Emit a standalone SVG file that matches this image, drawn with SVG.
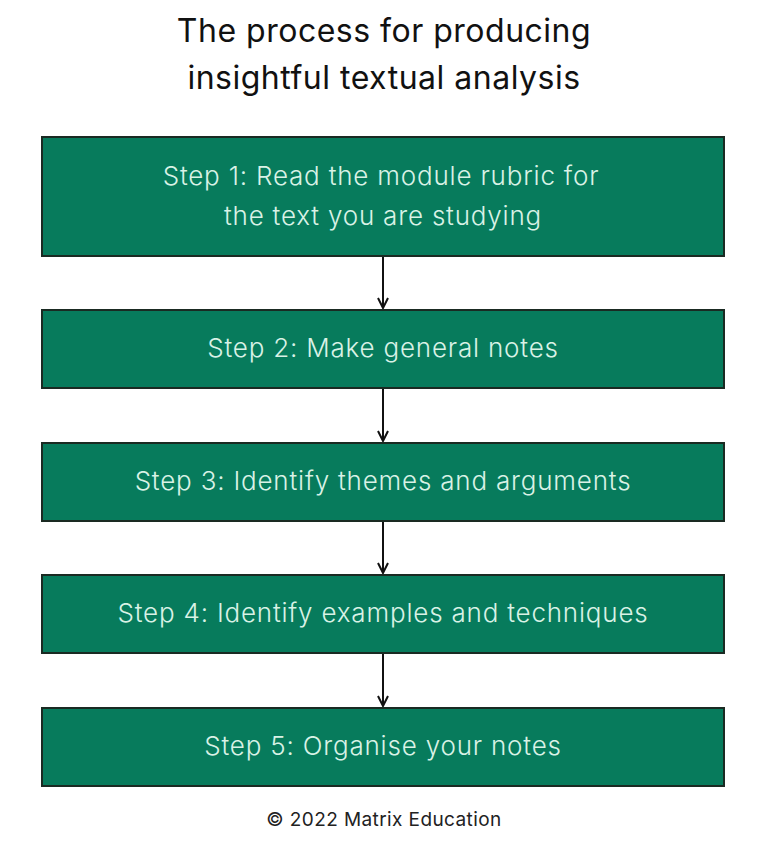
<svg xmlns="http://www.w3.org/2000/svg" width="768" height="853" viewBox="0 0 768 853">
<style>
.box{fill:#077b5c;stroke:#1a2a22;stroke-width:2}
.t{font-family:Inter,"Liberation Sans",sans-serif;font-size:26px;letter-spacing:0.8px;fill:#d9f2e6;text-anchor:middle;font-weight:300}
.h{font-family:Inter,"Liberation Sans",sans-serif;font-size:32px;letter-spacing:0.5px;fill:#111;text-anchor:middle}
.c{stroke:#111;stroke-width:2;fill:none}
</style>
<defs><marker id="a" viewBox="0 0 12 12" refX="11" refY="6" markerWidth="12" markerHeight="12" markerUnits="userSpaceOnUse" orient="auto"><path d="M1 1 L11 6 L1 11" fill="none" stroke="#111" stroke-width="2"/></marker></defs>
<rect width="768" height="853" fill="#fff"/>
<text class="h" x="384" y="42">The process for producing</text>
<text class="h" x="384" y="89">insightful textual analysis</text>
<g id="connectors">
<line class="c" x1="383" y1="257" x2="383" y2="308" marker-end="url(#a)"/>
<line class="c" x1="383" y1="389" x2="383" y2="441" marker-end="url(#a)"/>
<line class="c" x1="383" y1="522" x2="383" y2="573" marker-end="url(#a)"/>
<line class="c" x1="383" y1="654" x2="383" y2="706" marker-end="url(#a)"/>
</g>
<g id="step1"><rect class="box" x="42" y="137" width="682" height="119"/><text class="t" x="381" y="185">Step 1: Read the module rubric for</text><text class="t" x="383" y="225">the text you are studying</text></g>
<g id="step2"><rect class="box" x="42" y="310" width="682" height="78"/><text class="t" x="383" y="357">Step 2: Make general notes</text></g>
<g id="step3"><rect class="box" x="42" y="443" width="682" height="78"/><text class="t" x="383" y="490">Step 3: Identify themes and arguments</text></g>
<g id="step4"><rect class="box" x="42" y="575" width="682" height="78"/><text class="t" x="383" y="622">Step 4: Identify examples and techniques</text></g>
<g id="step5"><rect class="box" x="42" y="708" width="682" height="78"/><text class="t" x="383" y="755">Step 5: Organise your notes</text></g>
<text x="384" y="826" font-family="Inter,'Liberation Sans',sans-serif" font-size="19" letter-spacing="0.4" fill="#222" text-anchor="middle">© 2022 Matrix Education</text>
</svg>
